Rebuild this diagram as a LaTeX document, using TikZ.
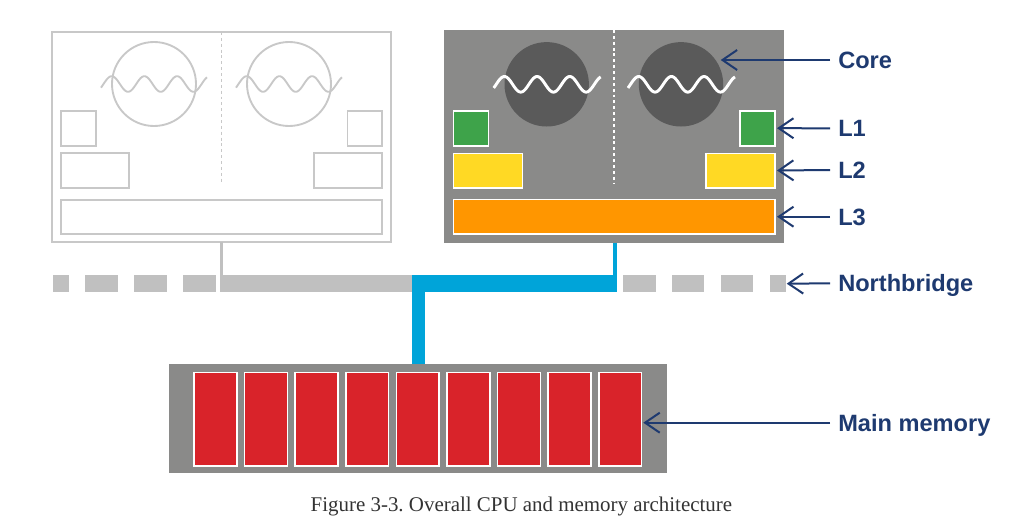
\documentclass[tikz,border=0pt]{standalone}
\usepackage{fontspec}
\setmainfont{Liberation Serif}
\newfontfamily\labelfont{Liberation Sans}
\usetikzlibrary{arrows.meta,calc}
\definecolor{ghost}{RGB}{200,200,200}
\definecolor{cpugray}{RGB}{138,138,137}
\definecolor{coregray}{RGB}{90,90,90}
\definecolor{lone}{RGB}{62,163,74}
\definecolor{ltwo}{RGB}{255,217,36}
\definecolor{lthree}{RGB}{255,150,0}
\definecolor{busgray}{RGB}{192,192,192}
\definecolor{busblue}{RGB}{0,164,217}
\definecolor{memred}{RGB}{217,35,42}
\definecolor{navy}{RGB}{30,58,112}
\definecolor{captext}{RGB}{51,51,51}
\frenchspacing
\begin{document}
\begin{tikzpicture}[x=0.75pt,y=-0.75pt,
  sz/.style 2 args={minimum width=#1*0.75pt,minimum height=#2*0.75pt,inner sep=0pt,outer sep=0pt},
  ghostbox/.style={draw=ghost,line width=1.4pt,fill=white,rectangle},
  ghostcirc/.style={draw=ghost,line width=1.4pt,fill=white,circle},
  solidbox/.style={draw=white,line width=1.2pt,rectangle},
  corecirc/.style={fill=coregray,circle},
  ghostwave/.style={draw=ghost,line width=1.4pt},
  whitewave/.style={draw=white,line width=2.2pt},
  busseg/.style={fill=busgray,rectangle,inner sep=0pt,outer sep=0pt,minimum height=17.3*0.75pt},
  membar/.style={sz={42.7}{93.4},fill=memred,draw=white,line width=1.2pt},
  lbl/.style={anchor=west,font=\labelfont\bfseries\fontsize{17.7pt}{20pt}\selectfont,text=navy,
    inner xsep=6pt,inner ysep=0pt,text height=12.7pt,text depth=0pt},
  arr/.style={draw=navy,line width=1.5pt,-{Straight Barb[length=11pt,width=15pt]}}
]
\useasboundingbox (0,0) rectangle (1034,525);
\fill[white] (0,0) rectangle (1034,525);

% ---------- left (ghost) CPU ----------
\node[ghostbox,sz={339}{210}] (lcpu) at (221.5,137) {};
\draw[ghost,line width=1.2pt,dash pattern=on 2.2pt off 2.2pt] (lcpu.north) -- ++(0,151);
\node[ghostcirc,sz={84}{84}] (lc1) at (154,84) {};
\node[ghostcirc,sz={84}{84}] (lc2) at (289,84) {};
\foreach \cx/\a/\b in {154/101/207, 289/236/342}
  \draw[ghostwave] plot[domain=\a:\b,samples=120,smooth] (\x,{84-7.8*cos(11.009*(\x-\cx+42.3))});
\node[ghostbox,sz={34.7}{35}] (la1) at (78.3,128.2) {};
\node[ghostbox,sz={68.3}{34.4}] (la2) at (95.2,170.5) {};
\node[ghostbox,sz={34.7}{35}] (lb1) at (364.8,128.2) {};
\node[ghostbox,sz={68.3}{34.4}] (lb2) at (348.2,170.5) {};
\node[ghostbox,sz={321.3}{34}] (lthreebox) at (221.7,217) {};

% ---------- right (active) CPU ----------
\node[fill=cpugray,sz={340}{213}] (rcpu) at (614,136.5) {};
\draw[white,line width=1.2pt,dash pattern=on 2.2pt off 2.2pt] (rcpu.north) -- ++(0,153);
\node[corecirc,sz={84.4}{84.4}] (rc1) at (546.7,84.3) {};
\node[corecirc,sz={84.4}{84.4}] (rc2) at (681,84.3) {};
\foreach \cx/\a/\b in {546.7/493.7/600.7, 681/628/735}
  \draw[whitewave] plot[domain=\a:\b,samples=120,smooth] (\x,{84.3-7.8*cos(11.009*(\x-\cx+42.3))});
\node[solidbox,fill=lone,sz={35}{35}] (g1) at (470.8,128.2) {};
\node[solidbox,fill=lone,sz={35}{35}] (g2) at (757.5,128.2) {};
\node[solidbox,fill=ltwo,sz={69}{34.4}] (y1) at (487.8,170.5) {};
\node[solidbox,fill=ltwo,sz={69}{34.4}] (y2) at (740.5,170.5) {};
\node[solidbox,fill=lthree,sz={321.7}{34.7}] (o1) at (614.2,216.7) {};

% ---------- northbridge bus ----------
\foreach \i/\a/\b in {1/53/69, 2/85/117.6, 3/133.6/167, 4/183/215.5,
                      5/623.3/655.7, 6/672.3/704.3, 7/721/753.3, 8/770/785.7}
  \node[busseg,minimum width={(\b-\a)*0.75pt}] (d\i) at ({(\a+\b)/2},283.7) {};
\node[busseg,minimum width=193.3*0.75pt] (busL) at (316.65,283.7) {};
\node[fill=busblue,rectangle,inner sep=0pt,outer sep=0pt,minimum width=205*0.75pt,minimum height=17.3*0.75pt] (bluebar) at (514.8,283.7) {};
\draw[busgray,line width=2.6pt] (lcpu.south) -- (lcpu.south |- busL.north);

% ---------- main memory ----------
\node[fill=cpugray,sz={497.7}{109}] (mem) at (417.8,418.8) {};
\foreach \i in {1,...,9}
  \node[membar] (m\i) at ({215.35+50.6*(\i-1)},419) {};

% blue links
\coordinate (upx) at ([xshift=-1.725pt]bluebar.north east);
\draw[busblue,line width=3.45pt] (upx) -- (upx |- rcpu.south);
\coordinate (dnx) at ([xshift=4.76pt]bluebar.south west);
\draw[busblue,line width=9.5pt] (dnx) -- (dnx |- mem.north);

% ---------- labels ----------
\node[lbl] (tCore) at (830,60) {Core};
\node[lbl] (tL1) at (830,128.3) {L1};
\node[lbl] (tL2) at (830,170) {L2};
\node[lbl] (tL3) at (830,216.7) {L3};
\node[lbl] (tNB) at (830,283.3) {Northbridge};
\node[lbl] (tMM) at (830,422.7) {Main memory};
\coordinate (coreTip) at (720.7,60);
\draw[arr] (tCore.west) -- (coreTip);
\draw[arr] (tL1.west) -- ($(g2.east)+(2,0)$);
\draw[arr] (tL2.west) -- ($(y2.east)+(2,0)$);
\draw[arr] (tL3.west) -- ($(o1.east)+(2,0)$);
\draw[arr] (tNB.west) -- ($(d8.east)+(1,0)$);
\draw[arr] (tMM.west) -- ($(tMM.west -| m9.east)+(1.8,0)$);

% ---------- caption ----------
\node[font=\fontsize{15.7pt}{18pt}\selectfont,text=captext,anchor=base,inner sep=0pt] (cap) at (521.4,511.7) {Figure 3-3. Overall CPU and memory architecture};
\end{tikzpicture}
\end{document}
